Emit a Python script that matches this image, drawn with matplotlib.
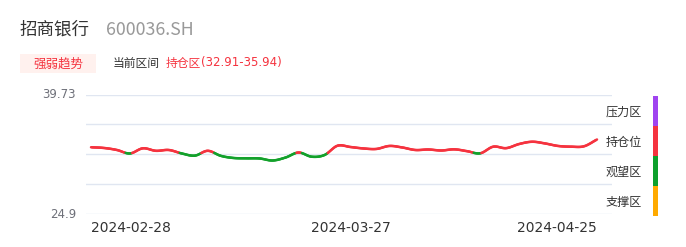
import numpy as np
import matplotlib
matplotlib.use("Agg")
import matplotlib.pyplot as plt
from matplotlib.collections import LineCollection
from matplotlib.patches import Rectangle

CJK = ["Noto Sans CJK SC", "DejaVu Sans"]
NUM = ["DejaVu Sans", "Noto Sans CJK SC"]

# --------------------------------------------------------------------------- #
# Data
# --------------------------------------------------------------------------- #
stock_name = "招商银行"
stock_code = "600036.SH"
zone_low, zone_high = 32.91, 35.94
y_min, y_max = 24.9, 39.73

# trading days 2024-02-28 .. 2024-04-25 (40 sessions)
n_days = 40
date_labels = ["2024-02-28", "2024-03-27", "2024-04-25"]
date_label_idx = [0, 20, 39]

prices = [33.20, 33.11, 32.86, 32.43, 33.07, 32.76, 32.86, 32.43, 32.16, 32.76,
          32.14, 31.87, 31.83, 31.81, 31.56, 31.93, 32.55, 32.03, 32.24, 33.39,
          33.23, 33.05, 32.99, 33.36, 33.17, 32.86, 32.92, 32.80, 32.94, 32.71,
          32.45, 33.27, 33.09, 33.60, 33.88, 33.67, 33.36, 33.27, 33.32, 34.16]

line_split = 32.5          # below -> green (watch), above -> red (hold)

zone_names = ["压力区", "持仓位", "观望区", "支撑区"]
zone_colors = ["#a044f0", "#f5333f", "#0da02c", "#ffaa00"]

RED = "#f5333f"
GREEN = "#13a12b"


def smooth(x, y, n=12):
    """Catmull-Rom through the points, for an echarts-like smooth line."""
    x = np.asarray(x, float); y = np.asarray(y, float)
    px = np.concatenate([[2 * x[0] - x[1]], x, [2 * x[-1] - x[-2]]])
    py = np.concatenate([[2 * y[0] - y[1]], y, [2 * y[-1] - y[-2]]])
    xs, ys = [], []
    t = np.linspace(0, 1, n, endpoint=False)
    for i in range(1, len(px) - 2):
        for arr, out in ((px, xs), (py, ys)):
            p0, p1, p2, p3 = arr[i - 1], arr[i], arr[i + 1], arr[i + 2]
            out.append(0.5 * ((2 * p1) + (-p0 + p2) * t
                              + (2 * p0 - 5 * p1 + 4 * p2 - p3) * t ** 2
                              + (-p0 + 3 * p1 - 3 * p2 + p3) * t ** 3))
    xs.append([x[-1]]); ys.append([y[-1]])
    return np.concatenate(xs), np.concatenate(ys)


W, H = 686, 247
fig = plt.figure(figsize=(W / 100, H / 100), dpi=100)

# header
fig.text(20 / W, 1 - 30 / H, stock_name, fontsize=12.6, color="#333333",
         family=CJK, va="center", ha="left")
fig.text(106 / W, 1 - 30 / H, stock_code, fontsize=12.8, color="#999999",
         family=CJK, va="center", ha="left")

fig.patches.append(Rectangle((20 / W, 1 - 73.3 / H), 76 / W, 19 / H,
                             transform=fig.transFigure, facecolor="#fff1ee",
                             edgecolor="none"))
fig.text(58 / W, 1 - 64 / H, "强弱趋势", fontsize=9, color="#f5333f",
         family=CJK, va="center", ha="center")
fig.text(113 / W, 1 - 63.5 / H, "当前区间", fontsize=8.5, color="#333333",
         family=CJK, va="center", ha="left")
fig.text(165.5 / W, 1 - 63.5 / H, "持仓区", fontsize=8.5, color="#f5333f",
         family=CJK, va="center", ha="left")
fig.text(201 / W, 1 - 62.5 / H, f"({zone_low:.2f}-{zone_high:.2f})",
         fontsize=8.5, color="#f5333f", family=NUM, va="center", ha="left")

# main chart
ax = fig.add_axes([86 / W, 1 - 214.3 / H, 526 / W, 119.8 / H])
step = 506 / (n_days - 1)
ax.set_xlim(-5 / step, n_days - 1 + 15 / step)
ax.set_ylim(y_min, y_max)
for s in ax.spines.values():
    s.set_visible(False)
ax.set_xticks([]); ax.set_yticks([])

for v in np.linspace(y_min, y_max, 5):
    ax.axhline(v, color="#e0e6f1", lw=1, zorder=1)

xs, ys = smooth(np.arange(n_days), prices)
pts = np.column_stack([xs, ys]).reshape(-1, 1, 2)
segs = np.concatenate([pts[:-1], pts[1:]], axis=1)
mid = (ys[:-1] + ys[1:]) / 2
cols = [GREEN if m < line_split else RED for m in mid]
ax.add_collection(LineCollection(segs, colors=cols, linewidths=1.8,
                                 capstyle="round", zorder=3))

ax.text(-10 / 526, 1.0, f"{y_max:.2f}", transform=ax.transAxes, fontsize=8.5,
        color="#6e7079", ha="right", va="center")
ax.text(-10 / 526, 0.0, f"{y_min:g}", transform=ax.transAxes, fontsize=8.5,
        color="#6e7079", ha="right", va="center")

aligns = ["left", "center", "right"]
for lab, idx, al in zip(date_labels, date_label_idx, aligns):
    ax.text(idx, y_min - 1.75, lab, fontsize=10, color="#333333", ha=al, va="center")

# zone legend on the right
seg_h = 30 / H
top = 1 - 96 / H
for k, (name, c) in enumerate(zip(zone_names, zone_colors)):
    y0 = top - (k + 1) * seg_h
    fig.patches.append(Rectangle((653 / W, y0), 4.6 / W, seg_h,
                                 transform=fig.transFigure, facecolor=c,
                                 edgecolor="none"))
    fig.text(642 / W, y0 + seg_h / 2 - 1.5 / H, name, fontsize=8.7,
             color="#333333", family=CJK, ha="right", va="center")

fig.savefig("out.png", dpi=100)
